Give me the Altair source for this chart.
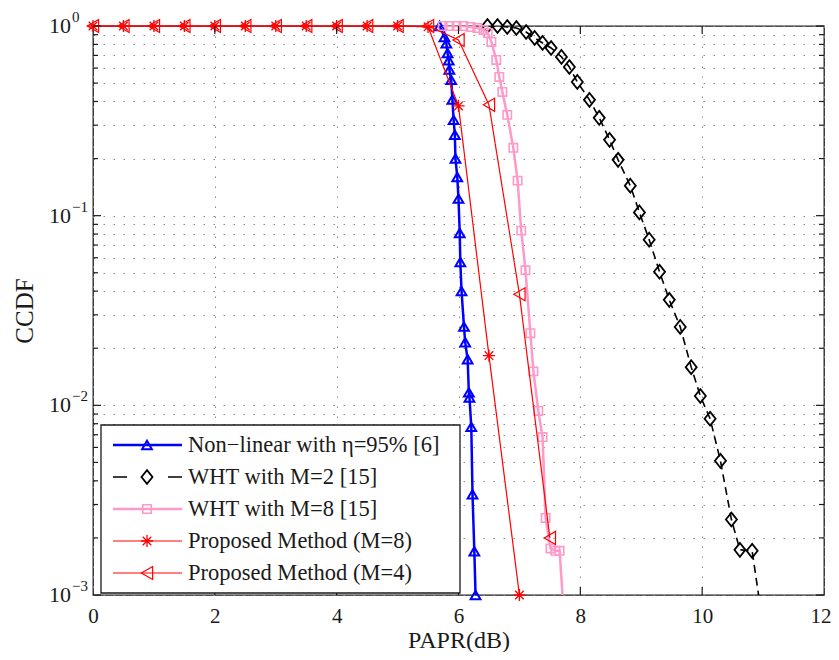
import altair as alt
import pandas as pd

# ---------------- data ----------------
series_names = [
    "Non\u2212linear with \u03b7=95% [6]",
    "WHT with M=2 [15]",
    "WHT with M=8 [15]",
    "Proposed Method (M=8)",
    "Proposed Method (M=4)",
]

nl_x = [5.69, 5.77, 5.80, 5.82, 5.84, 5.85, 5.88, 5.90, 5.92, 5.94, 5.95, 5.98, 6.00,
        6.02, 6.03, 6.05, 6.09, 6.11, 6.15, 6.17, 6.18, 6.21, 6.23, 6.26, 6.28]
nl_y = [1.0, 0.875, 0.81, 0.72, 0.66, 0.59, 0.52, 0.41, 0.32, 0.267, 0.20, 0.16, 0.123,
        0.081, 0.057, 0.040, 0.026, 0.0215, 0.0175, 0.0117, 0.011, 0.0077, 0.0034, 0.0017, 0.001]

wht2_x = [6.475, 6.64, 6.80, 6.95, 7.11, 7.25, 7.38, 7.52, 7.69, 7.82, 7.95, 8.15, 8.31, 8.48,
          8.62, 8.82, 8.97, 9.13, 9.30, 9.46, 9.64, 9.82, 9.97, 10.13, 10.30, 10.48, 10.62,
          10.82, 10.97]
wht2_y = [1.0, 1.0, 0.988, 0.976, 0.93, 0.865, 0.814, 0.766, 0.687, 0.608, 0.507, 0.408, 0.328,
          0.251, 0.197, 0.144, 0.104, 0.0747, 0.0506, 0.036, 0.0259, 0.0159, 0.0112, 0.0085,
          0.0051, 0.0025, 0.00173, 0.00171, 0.0008]

wht8_x = [5.74, 5.85, 5.97, 6.08, 6.20, 6.31, 6.41, 6.48, 6.54, 6.62, 6.67, 6.72, 6.80, 6.90,
          6.97, 7.03, 7.10, 7.18, 7.23, 7.31, 7.38, 7.43, 7.51, 7.59, 7.66, 7.74]
wht8_y = [1.0, 1.0, 1.0, 1.0, 0.988, 0.976, 0.953, 0.919, 0.824, 0.662, 0.539, 0.449, 0.340,
          0.228, 0.153, 0.0834, 0.0515, 0.0240, 0.0151, 0.00934, 0.0068, 0.00255, 0.00176,
          0.00171, 0.00171, 0.0007]

p8_x = [0.0, 0.5, 1.0, 1.5, 2.0, 2.5, 3.0, 3.5, 4.0, 4.5, 5.0, 5.5, 6.0, 6.5, 7.0]
p8_y = [1.0, 1.0, 1.0, 1.0, 1.0, 1.0, 1.0, 1.0, 1.0, 1.0, 1.0, 0.99, 0.379, 0.0183, 0.001]

p4_x = [0.0, 0.5, 1.0, 1.5, 2.0, 2.5, 3.0, 3.5, 4.0, 4.5, 5.0, 5.5, 6.0, 6.5, 7.0, 7.5]
p4_y = [1.0, 1.0, 1.0, 1.0, 1.0, 1.0, 1.0, 1.0, 1.0, 1.0, 1.0, 1.0, 0.844, 0.384, 0.0385, 0.002]

x_ticks = [0, 2, 4, 6, 8, 10, 12]
y_major = [1, 0.1, 0.01, 0.001]
y_exponents = ["0", "\u22121", "\u22122", "\u22123"]
y_minor = [0.002, 0.003, 0.004, 0.005, 0.006, 0.007, 0.008, 0.009,
           0.02, 0.03, 0.04, 0.05, 0.06, 0.07, 0.08, 0.09,
           0.2, 0.3, 0.4, 0.5, 0.6, 0.7, 0.8, 0.9]

# ---------------- styling ----------------
W, H = 731, 569
FONT = "Liberation Serif"
GRID_DASH = [1.5, 8.5]
GRID_COLOR = "#8a8a8a"

xs = alt.Scale(domain=[0, 12], nice=False, zero=False)
ys = alt.Scale(type="log", domain=[0.001, 1], nice=False)

x_axis = alt.Axis(values=x_ticks, grid=True, gridDash=GRID_DASH, gridColor=GRID_COLOR,
                  gridWidth=1, ticks=False, domain=False, labelFont=FONT, labelFontSize=21,
                  labelColor="#1a1a1a", labelBaseline="alphabetic", labelPadding=27,
                  labelFlush=False, labelOverlap=False, format="d",
                  labelAlign={"expr": "datum.value == 12 ? 'right' : 'center'"},
                  labelOffset={"expr": "datum.value == 12 ? 7 : 0"},
                  title="PAPR(dB)", titleFont=FONT, titleFontSize=24,
                  titleFontWeight="normal", titleColor="#1a1a1a",
                  titleBaseline="alphabetic", titleY=52, titleX=W / 2)
y_axis = alt.Axis(values=sorted(y_major + y_minor), grid=True, gridDash=GRID_DASH,
                  gridColor=GRID_COLOR, gridWidth=1, ticks=False, domain=False, labels=False,
                  title="CCDF", titleFont=FONT, titleFontSize=25, titleFontWeight="normal",
                  titleColor="#1a1a1a", titleAngle=270, titleBaseline="middle",
                  titleAlign="center", titleX=-69, titleY=H / 2)


def X(field):
    return alt.X(field, scale=xs, axis=x_axis)


def Y(field):
    return alt.Y(field, scale=ys, axis=y_axis)


styles = [
    dict(x=nl_x, y=nl_y, color="#0000ff", width=2.5, dash=[1, 0], shape="triangle-up",
         size=95, mw=2.0, clip=False),
    dict(x=wht2_x, y=wht2_y, color="#000000", width=1.6, dash=[8, 5],
         shape="M0,-1L0.8,0L0,1L-0.8,0Z", size=190, mw=1.8, clip=True),
    dict(x=wht8_x, y=wht8_y, color="#ff99c8", width=2.5, dash=[1, 0], shape="square",
         size=70, mw=1.6, clip=True),
    dict(x=p8_x, y=p8_y, color="#ff0000", width=1.2, dash=[1, 0],
         shape="M-1,0L1,0M0,-1L0,1M-0.7,-0.7L0.7,0.7M-0.7,0.7L0.7,-0.7", size=150, mw=1.3,
         clip=False),
    dict(x=p4_x, y=p4_y, color="#ff0000", width=1.2, dash=[1, 0], shape="triangle-left",
         size=170, mw=1.2, clip=False),
]

layers = []
for k, st in enumerate(styles):
    df = pd.DataFrame({"x": st["x"], "y": st["y"], "i": range(len(st["x"]))})
    line = alt.Chart(df).mark_line(color=st["color"], strokeWidth=st["width"],
                                   strokeDash=st["dash"], clip=st["clip"]).encode(
        x=X("x:Q"), y=Y("y:Q"), order="i:Q")
    pts = alt.Chart(df).transform_filter("datum.y >= 0.001").mark_point(
        shape=st["shape"], filled=False, color=st["color"], size=st["size"],
        strokeWidth=st["mw"], opacity=1).encode(x=X("x:Q"), y=Y("y:Q"))
    layers += [line, pts]

# inward ticks (MATLAB box style)
ymaj_df = pd.DataFrame({"v": y_major})
ymin_df = pd.DataFrame({"v": y_minor})
xt_df = pd.DataFrame({"v": x_ticks[1:-1]})
for dfv, ln in [(ymaj_df, 8), (ymin_df, 5)]:
    for x0, x1 in [(0, ln), (W - ln, W)]:
        layers.append(alt.Chart(dfv).mark_rule(color="#1a1a1a", strokeWidth=1.2).encode(
            y=Y("v:Q"), x=alt.value(x0), x2=alt.value(x1)))
for y0, y1 in [(0, 8), (H - 8, H)]:
    layers.append(alt.Chart(xt_df).mark_rule(color="#1a1a1a", strokeWidth=1.2).encode(
        x=X("v:Q"), y=alt.value(y0), y2=alt.value(y1)))

# y tick labels 10^k
lab_df = pd.DataFrame({"v": y_major, "e": y_exponents})
layers.append(alt.Chart(lab_df).mark_text(text="10", font=FONT, fontSize=22, align="right",
                                          baseline="middle", color="#1a1a1a").encode(
    y=Y("v:Q"), x=alt.value(-22)))
layers.append(alt.Chart(lab_df).mark_text(font=FONT, fontSize=15, align="left",
                                          baseline="middle", dy=-9, color="#1a1a1a").encode(
    y=Y("v:Q"), x=alt.value(-21), text="e:N"))

# legend
leg_dummy = pd.DataFrame({"a": [0]})
layers.append(alt.Chart(leg_dummy).mark_rect(fill="white", stroke="#1a1a1a",
                                             strokeWidth=1.3).encode(
    x=alt.value(8), x2=alt.value(367), y=alt.value(399), y2=alt.value(567)))
for k, (st, name) in enumerate(zip(styles, series_names)):
    ly = 419 + 32 * k
    dash = [14, 41] if k == 1 else [1, 0]
    layers.append(alt.Chart(leg_dummy).mark_rule(color=st["color"], strokeWidth=st["width"],
                                                 strokeDash=dash).encode(
        x=alt.value(20), x2=alt.value(89), y=alt.value(ly)))
    layers.append(alt.Chart(leg_dummy).mark_point(shape=st["shape"], filled=False,
                                                  color=st["color"], size=st["size"],
                                                  strokeWidth=st["mw"], opacity=1).encode(
        x=alt.value(54), y=alt.value(ly)))
    layers.append(alt.Chart(leg_dummy).mark_text(text=name, font=FONT, fontSize=22.5,
                                                 align="left", baseline="middle",
                                                 color="#1a1a1a").encode(
        x=alt.value(95), y=alt.value(ly)))

chart = alt.layer(*layers).properties(
    width=W, height=H,
    padding={"left": 85, "top": 18, "right": 7, "bottom": 57},
    autosize=alt.AutoSizeParams(type="none"),
    background="white",
).configure_view(stroke="#1a1a1a", strokeWidth=1.3)

chart.save("out.html", embed_options={"renderer": "svg", "actions": False})
